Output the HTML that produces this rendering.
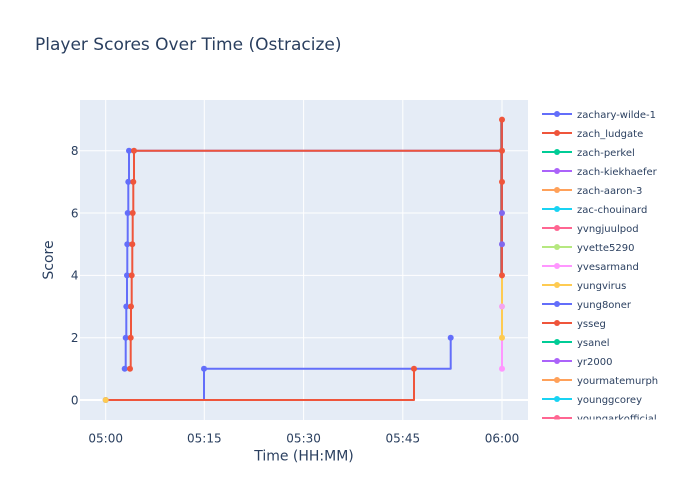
<!DOCTYPE html>
<html><head><meta charset="utf-8"><style>
html,body{margin:0;padding:0;background:#fff;}
svg{display:block;}
text{font-family:"DejaVu Sans","Liberation Sans",sans-serif;fill:#2a3f5f;}
</style></head><body>
<svg width="700" height="500" viewBox="0 0 700 500" xmlns="http://www.w3.org/2000/svg">
<defs>
<clipPath id="plotclip"><rect x="80" y="100" width="448" height="320"/></clipPath>
<clipPath id="legclip"><rect x="535" y="100" width="165" height="319.5"/></clipPath>
</defs>
<rect x="0" y="0" width="700" height="500" fill="#fff"/>
<rect x="80" y="100" width="448" height="320" fill="#e5ecf6"/>
<!-- grid -->
<g stroke="#fff" stroke-width="1">
<line x1="105.7" y1="100" x2="105.7" y2="420"/>
<line x1="204.3" y1="100" x2="204.3" y2="420"/>
<line x1="303.6" y1="100" x2="303.6" y2="420"/>
<line x1="402.8" y1="100" x2="402.8" y2="420"/>
<line x1="502" y1="100" x2="502" y2="420"/>
<line x1="80" y1="337.7" x2="528" y2="337.7"/>
<line x1="80" y1="275.4" x2="528" y2="275.4"/>
<line x1="80" y1="213" x2="528" y2="213"/>
<line x1="80" y1="150.7" x2="528" y2="150.7"/>
</g>
<line x1="80" y1="400" x2="528" y2="400" stroke="#fff" stroke-width="2"/>

<g clip-path="url(#plotclip)" fill="none" stroke-width="2" stroke-linejoin="round">
<!-- blue A -->
<path d="M105.7,400 H204 V368.8 H450.7 V337.7" stroke="#636efa"/>
<!-- red A -->
<path d="M105.7,400 H414 V368.8" stroke="#EF553B"/>
<!-- blue B climbing -->
<path d="M124.7,368.8 H125.7 V337.7 H126.3 V306.5 H127 V275.4 H127.3 V244.2 H127.7 V213 H128.3 V181.9 H129 V150.7 H502" stroke="#636efa"/>
<!-- red B climbing -->
<path d="M130,368.8 H130.7 V337.7 H131 V306.5 H131.7 V275.4 H132.3 V244.2 H132.7 V213 H133.3 V181.9 H134 V150.7 H502 V119.6" stroke="#EF553B"/>
<!-- 06:00 column -->
<path d="M502,368.8 V337.7" stroke="#FF97FF"/>
<path d="M502,337.7 V275.4" stroke="#FECB52"/>
<path d="M501.5,275.4 V119.6" stroke="#a06a70" stroke-width="2.6"/>
<path d="M502,275.4 V119.6" stroke="#e0544a" stroke-width="2"/>
</g>

<g clip-path="url(#plotclip)">
<!-- markers blue A -->
<g fill="#636efa">
<circle cx="105.7" cy="400" r="3"/>
<circle cx="204" cy="368.8" r="3"/>
<circle cx="450.7" cy="337.7" r="3"/>
<circle cx="124.7" cy="368.8" r="3"/>
<circle cx="125.7" cy="337.7" r="3"/>
<circle cx="126.3" cy="306.5" r="3"/>
<circle cx="127" cy="275.4" r="3"/>
<circle cx="127.3" cy="244.2" r="3"/>
<circle cx="127.7" cy="213" r="3"/>
<circle cx="128.3" cy="181.9" r="3"/>
<circle cx="129" cy="150.7" r="3"/>
</g>
<g fill="#EF553B">
<circle cx="414" cy="368.8" r="3"/>
<circle cx="130" cy="368.8" r="3"/>
<circle cx="130.7" cy="337.7" r="3"/>
<circle cx="131" cy="306.5" r="3"/>
<circle cx="131.7" cy="275.4" r="3"/>
<circle cx="132.3" cy="244.2" r="3"/>
<circle cx="132.7" cy="213" r="3"/>
<circle cx="133.3" cy="181.9" r="3"/>
<circle cx="134" cy="150.7" r="3"/>
<circle cx="502" cy="119.6" r="3"/>
<circle cx="502" cy="150.7" r="3"/>
<circle cx="502" cy="181.9" r="3"/>
<circle cx="502" cy="275.4" r="3"/>
</g>
<circle cx="502" cy="213" r="3" fill="#7f68ee"/>
<circle cx="502" cy="244.2" r="3" fill="#7f68ee"/>
<circle cx="502" cy="306.5" r="3" fill="#f5a3f0"/>
<circle cx="502" cy="337.7" r="3" fill="#FECB52"/>
<circle cx="502" cy="368.8" r="3" fill="#FF97FF"/>
<circle cx="105.7" cy="400" r="3" fill="#FECB52"/>
</g>

<!-- axes labels -->
<g font-size="12" text-anchor="end">
<text x="78.5" y="404.3">0</text>
<text x="78.5" y="342">2</text>
<text x="78.5" y="279.7">4</text>
<text x="78.5" y="217.3">6</text>
<text x="78.5" y="155">8</text>
</g>
<g font-size="12" text-anchor="middle">
<text x="105.7" y="442.3">05:00</text>
<text x="204.3" y="442.3">05:15</text>
<text x="303.6" y="442.3">05:30</text>
<text x="402.8" y="442.3">05:45</text>
<text x="502" y="442.3">06:00</text>
</g>
<text x="304" y="460.3" font-size="14" text-anchor="middle">Time (HH:MM)</text>
<text transform="translate(53,260) rotate(-90)" font-size="14" text-anchor="middle">Score</text>
<text x="35" y="50" font-size="17">Player Scores Over Time (Ostracize)</text>

<!-- legend -->
<g clip-path="url(#legclip)" font-size="10">
<g stroke-width="2">
<line x1="542" y1="114" x2="572" y2="114" stroke="#636efa"/><circle cx="557" cy="114" r="3" fill="#636efa"/>
<line x1="542" y1="133" x2="572" y2="133" stroke="#EF553B"/><circle cx="557" cy="133" r="3" fill="#EF553B"/>
<line x1="542" y1="152" x2="572" y2="152" stroke="#00cc96"/><circle cx="557" cy="152" r="3" fill="#00cc96"/>
<line x1="542" y1="171" x2="572" y2="171" stroke="#ab63fa"/><circle cx="557" cy="171" r="3" fill="#ab63fa"/>
<line x1="542" y1="190" x2="572" y2="190" stroke="#FFA15A"/><circle cx="557" cy="190" r="3" fill="#FFA15A"/>
<line x1="542" y1="209" x2="572" y2="209" stroke="#19d3f3"/><circle cx="557" cy="209" r="3" fill="#19d3f3"/>
<line x1="542" y1="228" x2="572" y2="228" stroke="#FF6692"/><circle cx="557" cy="228" r="3" fill="#FF6692"/>
<line x1="542" y1="247" x2="572" y2="247" stroke="#B6E880"/><circle cx="557" cy="247" r="3" fill="#B6E880"/>
<line x1="542" y1="266" x2="572" y2="266" stroke="#FF97FF"/><circle cx="557" cy="266" r="3" fill="#FF97FF"/>
<line x1="542" y1="285" x2="572" y2="285" stroke="#FECB52"/><circle cx="557" cy="285" r="3" fill="#FECB52"/>
<line x1="542" y1="304" x2="572" y2="304" stroke="#636efa"/><circle cx="557" cy="304" r="3" fill="#636efa"/>
<line x1="542" y1="323" x2="572" y2="323" stroke="#EF553B"/><circle cx="557" cy="323" r="3" fill="#EF553B"/>
<line x1="542" y1="342" x2="572" y2="342" stroke="#00cc96"/><circle cx="557" cy="342" r="3" fill="#00cc96"/>
<line x1="542" y1="361" x2="572" y2="361" stroke="#ab63fa"/><circle cx="557" cy="361" r="3" fill="#ab63fa"/>
<line x1="542" y1="380" x2="572" y2="380" stroke="#FFA15A"/><circle cx="557" cy="380" r="3" fill="#FFA15A"/>
<line x1="542" y1="399" x2="572" y2="399" stroke="#19d3f3"/><circle cx="557" cy="399" r="3" fill="#19d3f3"/>
<line x1="542" y1="418" x2="572" y2="418" stroke="#FF6692"/><circle cx="557" cy="418" r="3" fill="#FF6692"/>
</g>
<text x="577" y="117.8">zachary-wilde-1</text>
<text x="577" y="136.8">zach_ludgate</text>
<text x="577" y="155.8">zach-perkel</text>
<text x="577" y="174.8">zach-kiekhaefer</text>
<text x="577" y="193.8">zach-aaron-3</text>
<text x="577" y="212.8">zac-chouinard</text>
<text x="577" y="231.8">yvngjuulpod</text>
<text x="577" y="250.8">yvette5290</text>
<text x="577" y="269.8">yvesarmand</text>
<text x="577" y="288.8">yungvirus</text>
<text x="577" y="307.8">yung8oner</text>
<text x="577" y="326.8">ysseg</text>
<text x="577" y="345.8">ysanel</text>
<text x="577" y="364.8">yr2000</text>
<text x="577" y="383.8">yourmatemurph</text>
<text x="577" y="402.8">younggcorey</text>
<text x="577" y="421.8">youngarkofficial</text>
</g>
</svg>
</body></html>
